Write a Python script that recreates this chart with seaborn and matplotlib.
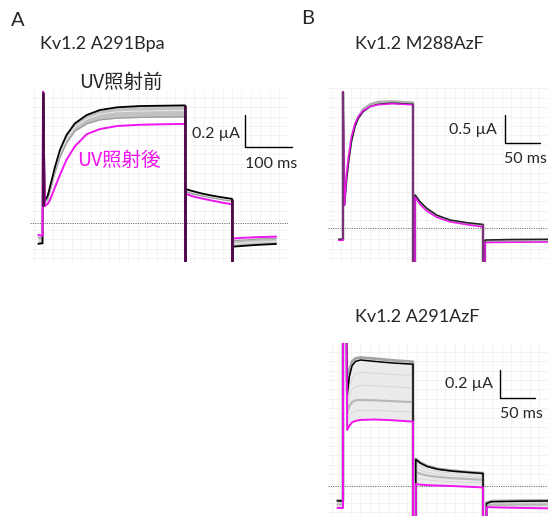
import numpy as np
import matplotlib
matplotlib.use("Agg")
import matplotlib.pyplot as plt
import seaborn as sns

# ---- data (time in ms, current in uA); -1 = off-scale capacitive transient ----
# Panel A: Kv1.2 A291Bpa
a_t = [-10, -1, 0, 4, 10, 15, 25, 36, 50, 68, 93, 121, 157, 206, 250, 300, 302, 302,
       304, 304, 320, 340, 360, 380, 400, 402, 402, 404, 404, 430, 460, 496]
a_black = [-0.13, -0.127, 0.82, 0.138, 0.17, 0.227, 0.345, 0.456, 0.55, 0.623, 0.675, 0.706,
           0.723, 0.731, 0.733, 0.735, 0.735, -1, -1, 0.212, 0.198, 0.183, 0.171, 0.161, 0.152,
           0.152, -1, -1, -0.148, -0.142, -0.136, -0.131]
a_grey_mid = [-0.11, -0.11, 0.82, 0.13, 0.16, 0.215, 0.33, 0.435, 0.525, 0.60, 0.65, 0.68,
              0.695, 0.70, 0.702, 0.703, 0.703, -1, -1, 0.205, 0.19, 0.176, 0.164, 0.154, 0.145,
              0.145, -1, -1, -0.13, -0.124, -0.118, -0.113]
a_grey_low = [-0.09, -0.095, 0.82, 0.125, 0.15, 0.20, 0.31, 0.41, 0.50, 0.575, 0.62, 0.645,
              0.655, 0.66, 0.662, 0.663, 0.663, -1, -1, 0.195, 0.18, 0.168, 0.157, 0.147, 0.138,
              0.138, -1, -1, -0.11, -0.106, -0.10, -0.096]
a_magenta = [-0.075, -0.08, 0.82, 0.106, 0.12, 0.144, 0.22, 0.30, 0.395, 0.48, 0.555, 0.587,
             0.606, 0.614, 0.617, 0.619, 0.619, -1, -1, 0.182, 0.165, 0.152, 0.140, 0.128, 0.118,
             0.118, -1, -1, -0.096, -0.092, -0.088, -0.085]
a_spike_t = [0, 302, 402]
a_spike_top = [0.82, 0.735, 0.152]
a_spike_bot = [0.106, -1, -1]

# Panel B top: Kv1.2 M288AzF
bt_t = [-6, 0, 0, 2, 5, 8, 12, 17, 22, 29, 39, 50, 70, 99, 100, 100, 103, 103, 110, 120,
        134, 153, 177, 199, 200, 200, 203, 203, 240, 295]
bt_black = [-0.2, -0.2, 2.43, 0.41, 0.85, 1.19, 1.54, 1.81, 1.96, 2.08, 2.17, 2.21, 2.23, 2.21,
            2.21, -1, -1, 0.59, 0.47, 0.35, 0.23, 0.143, 0.095, 0.066, 0.066, -1, -1, -0.214,
            -0.205, -0.20]
bt_grey = [-0.21, -0.21, 2.43, 0.41, 0.9, 1.23, 1.58, 1.84, 1.99, 2.12, 2.21, 2.25, 2.26, 2.24,
           2.24, -1, -1, 0.58, 0.45, 0.33, 0.21, 0.13, 0.08, 0.045, 0.045, -1, -1, -0.235,
           -0.228, -0.223]
bt_magenta = [-0.22, -0.22, 2.43, 0.41, 0.95, 1.28, 1.62, 1.86, 1.99, 2.10, 2.17, 2.20, 2.22,
              2.20, 2.20, -1, -1, 0.55, 0.42, 0.30, 0.19, 0.11, 0.06, 0.02, 0.02, -1, -1, -0.26,
              -0.255, -0.25]
bt_spike_t = [0, 100, 200]
bt_spike_top = [2.43, 2.21, 0.066]
bt_spike_bot = [-0.2, -1, -1]

# Panel B bottom: Kv1.2 A291AzF
bb_t = [-8, 0, 0, 4, 6, 9, 13, 18, 25, 45, 70, 99, 100, 100, 104, 104, 110, 120, 135, 155,
        177, 199, 200, 200, 205, 205, 212, 250, 295]
bb_black = [-0.107, -0.107, 1.5, 1.5, 0.65, 0.78, 0.86, 0.89, 0.90, 0.89, 0.879, 0.87, 0.87,
            -1, -1, 0.19, 0.165, 0.14, 0.12, 0.107, 0.098, 0.09, 0.09, -1, -1, -0.125, -0.112,
            -0.109, -0.107]
bb_grey_top = [-0.104, -0.104, 1.5, 1.5, 0.68, 0.82, 0.89, 0.912, 0.918, 0.91, 0.898, 0.888,
               0.888, -1, -1, 0.193, 0.168, 0.143, 0.123, 0.11, 0.1, 0.092, 0.092, -1, -1,
               -0.12, -0.108, -0.105, -0.103]
bb_grey_a = [-0.115, -0.115, 1.5, 1.5, 0.60, 0.70, 0.77, 0.80, 0.81, 0.805, 0.797, 0.79, 0.79,
             -1, -1, 0.16, 0.14, 0.12, 0.103, 0.092, 0.084, 0.078, 0.078, -1, -1, -0.13, -0.12,
             -0.117, -0.115]
bb_grey_b = [-0.123, -0.123, 1.5, 1.5, 0.56, 0.64, 0.69, 0.71, 0.72, 0.716, 0.71, 0.70, 0.70,
             -1, -1, 0.13, 0.115, 0.098, 0.085, 0.075, 0.068, 0.062, 0.062, -1, -1, -0.136,
             -0.127, -0.125, -0.123]
bb_grey_mid = [-0.132, -0.132, 1.5, 1.5, 0.52, 0.57, 0.60, 0.612, 0.615, 0.612, 0.606, 0.60,
               0.60, -1, -1, 0.10, 0.088, 0.075, 0.065, 0.056, 0.05, 0.045, 0.045, -1, -1,
               -0.141, -0.134, -0.133, -0.132]
bb_grey_c = [-0.142, -0.142, 1.5, 1.5, 0.46, 0.50, 0.525, 0.535, 0.54, 0.54, 0.535, 0.53, 0.53,
             -1, -1, 0.06, 0.052, 0.044, 0.037, 0.031, 0.026, 0.022, 0.022, -1, -1, -0.146,
             -0.141, -0.143, -0.145]
bb_magenta = [-0.157, -0.157, 1.5, 1.5, 0.40, 0.43, 0.455, 0.465, 0.472, 0.475, 0.47, 0.46,
              0.46, -1, -1, 0.014, 0.01, 0.006, 0.003, 0.0, -0.005, -0.01, -0.01, -1, -1,
              -0.15, -0.152, -0.156, -0.16]

MAGENTA = "#f014f0"
W, H = 548, 516

sns.set_theme(style="white")
plt.rcParams["font.family"] = ["Lato", "DejaVu Sans"]
JP = ["Noto Sans CJK JP", "DejaVu Sans"]

fig = plt.figure(figsize=(W / 100, H / 100), dpi=100)


def trace(ax, t, v, color, lw):
    sns.lineplot(x=t, y=v, ax=ax, color=color, linewidth=lw, estimator=None, sort=False)


def setup(ax, box, t0, zero, px_ms, px_ua):
    # box is the pixel rectangle of the axes; map pixels to ms / uA
    x0, y0, x1, y1 = box
    ax.set_xlim((x0 - t0) / px_ms, (x1 - t0) / px_ms)
    ax.set_ylim((zero - y1) / px_ua, (zero - y0) / px_ua)
    g = 9.43  # grid spacing in pixels
    ax.set_xticks(np.arange((x0 + 4 - t0) / px_ms, (x1 - t0) / px_ms, g / px_ms))
    ax.set_yticks(np.arange((zero - y1 + 4) / px_ua, (zero - y0) / px_ua, g / px_ua))
    ax.tick_params(length=0, labelbottom=False, labelleft=False)
    ax.grid(True, color="#f1f1f1", lw=0.6)
    ax.set_frame_on(False)
    ax.set_xlabel("")
    ax.set_ylabel("")
    ax.axhline(0, color="#707070", lw=0.7, ls=(0, (1.2, 1.2)), zorder=1)


def scale_bar(ax, x, y, t0, zero, px_ms, px_ua, ms, ua):
    tc, ic = (x - t0) / px_ms, (zero - y) / px_ua
    ax.plot([tc, tc, tc + ms], [ic + ua, ic, ic], color="black", lw=1.0, clip_on=False)


def add_axes(box):
    x0, y0, x1, y1 = box
    return fig.add_axes([x0 / W, 1 - y1 / H, (x1 - x0) / W, (y1 - y0) / H])


def ftext(x, y, s, **kw):
    fig.text(x / W, 1 - y / H, s, va="center", ha="left", **kw)


# ---- Panel A ----
boxA = (30, 90, 288, 262)
axA = add_axes(boxA)
axA.fill_between(a_t, a_black, a_grey_low, color="#c2c2c2", lw=0, zorder=2)
trace(axA, a_t, a_grey_low, "#a0a0a0", 1.0)
trace(axA, a_t, a_grey_mid, "#e6e6e6", 0.8)
trace(axA, a_t, a_black, "black", 1.3)
trace(axA, a_t, a_magenta, MAGENTA, 1.4)
axA.vlines(a_spike_t, a_spike_bot, a_spike_top, color="#4a0c44", lw=2.0, zorder=5)
setup(axA, boxA, 43, 223, 0.47, 160)
scale_bar(axA, 245, 147, 43, 223, 0.47, 160, 100, 0.2)

# ---- Panel B top ----
boxB1 = (328, 88, 548, 262)
axB1 = add_axes(boxB1)
axB1.fill_between(bt_t, bt_black, bt_magenta, color="#bdbdbd", lw=0, zorder=2)
trace(axB1, bt_t, bt_grey, "#b0b0b0", 1.8)
trace(axB1, bt_t, bt_black, "#202020", 1.1)
trace(axB1, bt_t, bt_magenta, MAGENTA, 1.1)
axB1.vlines(bt_spike_t, bt_spike_bot, bt_spike_top, color="#7b2f78", lw=1.6, zorder=5)
setup(axB1, boxB1, 343, 228, 0.70, 56)
scale_bar(axB1, 505, 143, 343, 228, 0.70, 56, 50, 0.5)

# ---- Panel B bottom ----
boxB2 = (328, 343, 548, 516)
axB2 = add_axes(boxB2)
axB2.fill_between(bb_t, bb_grey_top, bb_magenta, color="#ebebeb", lw=0, zorder=2)
trace(axB2, bb_t, bb_grey_top, "#a4a4a4", 2.0)
for g in (bb_grey_a, bb_grey_b, bb_grey_c):
    trace(axB2, bb_t, g, "#d4d4d4", 0.6)
trace(axB2, bb_t, bb_grey_mid, "#b8b8b8", 1.6)
trace(axB2, bb_t, bb_black, "black", 1.1)
trace(axB2, bb_t, bb_magenta, MAGENTA, 1.4)
setup(axB2, boxB2, 343, 486, 0.70, 140)
scale_bar(axB2, 500, 398, 343, 486, 0.70, 140, 50, 0.2)

# ---- texts ----
ftext(11, 21, "A", fontsize=14.5)
ftext(40, 44, "Kv1.2 A291Bpa", fontsize=13)
ftext(79, 82, "UV照射前", fontsize=14, family=JP)
ftext(77, 161, "UV照射後", fontsize=14, family=JP, color=MAGENTA)
ftext(192, 134, "0.2 µA", fontsize=11.5)
ftext(245, 164, "100 ms", fontsize=11.5)

ftext(301, 19, "B", fontsize=14.5)
ftext(355, 44, "Kv1.2 M288AzF", fontsize=13)
ftext(449, 130, "0.5 µA", fontsize=11.5)
ftext(504, 159, "50 ms", fontsize=11.5)

ftext(355, 317, "Kv1.2 A291AzF", fontsize=13)
ftext(445, 384, "0.2 µA", fontsize=11.5)
ftext(500, 414, "50 ms", fontsize=11.5)

fig.savefig("out.png", dpi=100)
